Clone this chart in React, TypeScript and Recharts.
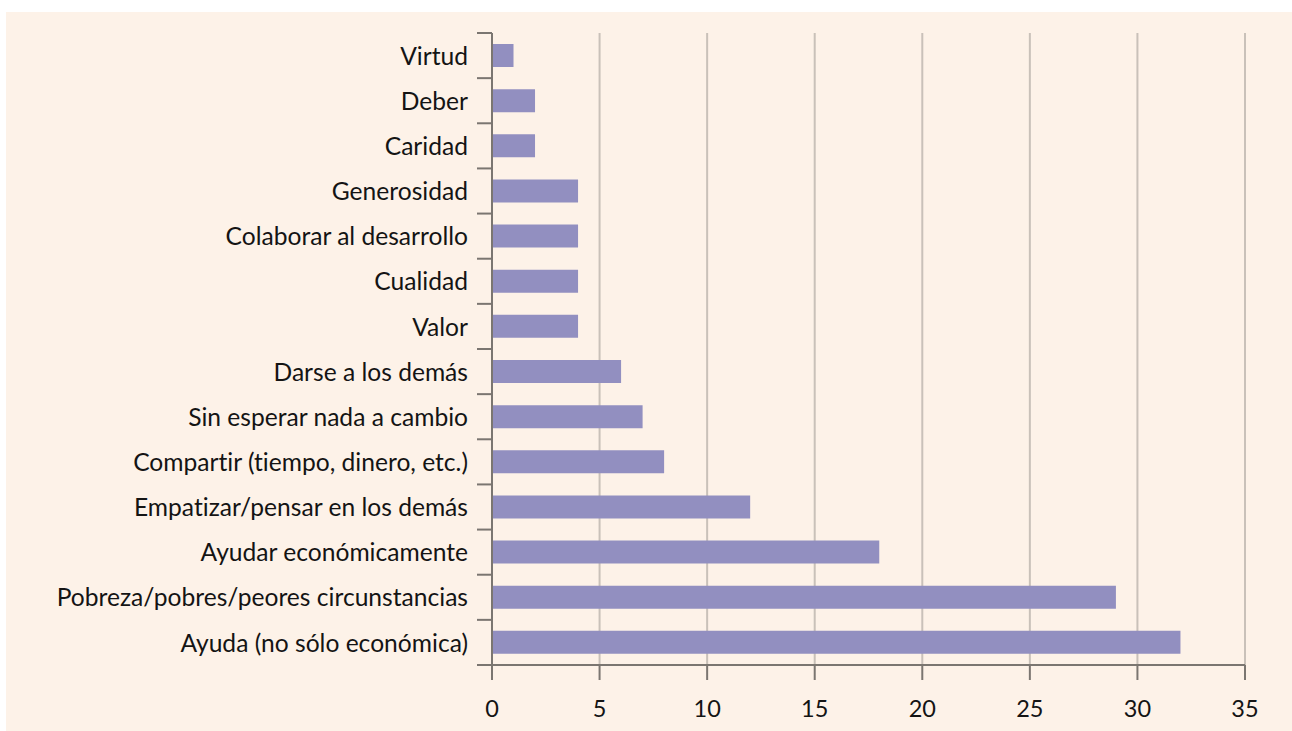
import { BarChart, Bar, XAxis, YAxis, CartesianGrid } from "recharts";

const categories = [
  "Virtud",
  "Deber",
  "Caridad",
  "Generosidad",
  "Colaborar al desarrollo",
  "Cualidad",
  "Valor",
  "Darse a los demás",
  "Sin esperar nada a cambio",
  "Compartir (tiempo, dinero, etc.)",
  "Empatizar/pensar en los demás",
  "Ayudar económicamente",
  "Pobreza/pobres/peores circunstancias",
  "Ayuda (no sólo económica)",
];

const values = [1, 2, 2, 4, 4, 4, 4, 6, 7, 8, 12, 18, 29, 32];

const xTicks = [0, 5, 10, 15, 20, 25, 30, 35];

const data = categories.map((name, i) => ({ name, value: values[i] }));

const W = 1292;
const H = 731;
const margin = { top: 33, right: 47, bottom: 16, left: 0 };
const yAxisWidth = 492;
const xAxisHeight = 50;
const plotH = H - margin.top - margin.bottom - xAxisHeight;
const band = plotH / categories.length;

const FONT = "Lato, 'Open Sans', sans-serif";
const AXIS = "#7b7671";
const GRID = "#c9c1b9";
const BAR = "#928fc0";

// Excel-style ticks sit on the category boundaries, not the centers
function CategoryTick(props: any) {
  const { x, y, payload, index } = props;
  return (
    <g>
      <line x1={x - 15} x2={x} y1={y - band / 2} y2={y - band / 2} stroke={AXIS} strokeWidth={2} />
      {index === categories.length - 1 && (
        <line x1={x - 15} x2={x} y1={y + band / 2} y2={y + band / 2} stroke={AXIS} strokeWidth={2} />
      )}
      <text
        x={x - 24}
        y={y}
        dy="0.37em"
        textAnchor="end"
        fill="#141414"
        fontSize={24.6}
        fontFamily={FONT}
        style={{ fontVariantLigatures: "none" }}
      >
        {payload.value}
      </text>
    </g>
  );
}

export default function App() {
  return (
    <div style={{ position: "absolute", left: 0, top: 0, width: W, height: H, background: "#fff" }}>
      <div
        style={{
          position: "absolute",
          left: 6,
          top: 12,
          width: W - 6,
          height: H - 12,
          background: "#fdf2e8",
        }}
      />
      <div style={{ position: "absolute", left: 0, top: 0 }}>
        <BarChart width={W} height={H} data={data} layout="vertical" margin={margin}>
          <CartesianGrid horizontal={false} stroke={GRID} strokeWidth={2} />
          <XAxis
            type="number"
            domain={[0, 35]}
            ticks={xTicks}
            height={xAxisHeight}
            tickSize={15}
            tickMargin={20}
            stroke={AXIS}
            strokeWidth={2}
            tick={{ fill: "#141414", fontSize: 23.5, fontFamily: FONT }}
            interval={0}
          />
          <YAxis
            type="category"
            dataKey="name"
            width={yAxisWidth}
            interval={0}
            tickLine={false}
            tickSize={0}
            tickMargin={0}
            stroke={AXIS}
            strokeWidth={2}
            tick={<CategoryTick />}
          />
          <Bar dataKey="value" fill={BAR} barSize={23} isAnimationActive={false} />
        </BarChart>
      </div>
    </div>
  );
}
